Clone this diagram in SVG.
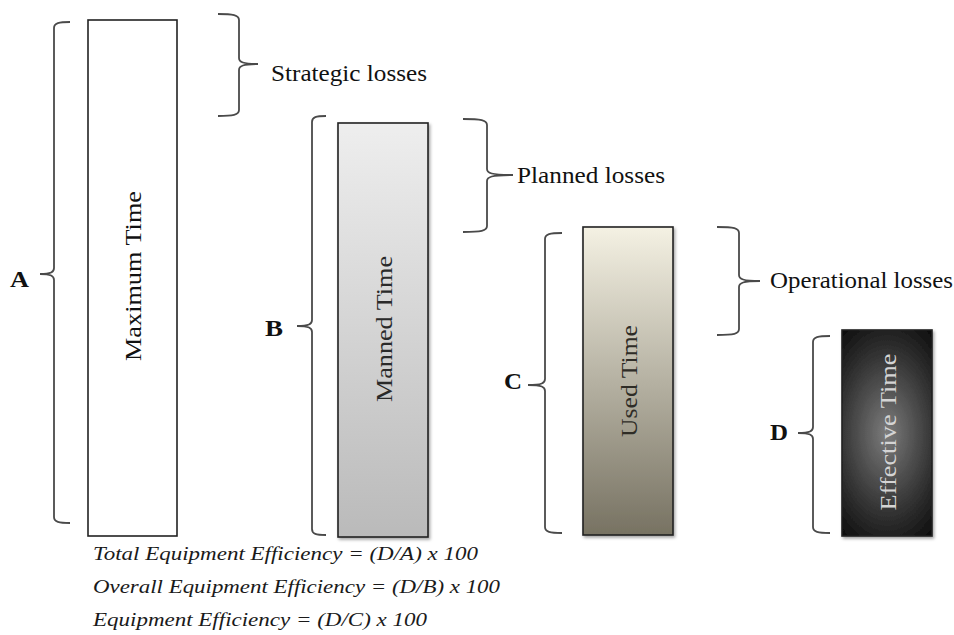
<svg xmlns="http://www.w3.org/2000/svg" width="954" height="635" viewBox="0 0 954 635">
  <defs>
    <linearGradient id="gradManned" x1="0" y1="0" x2="0" y2="1">
      <stop offset="0" stop-color="#eeeeee"/>
      <stop offset="1" stop-color="#bababa"/>
    </linearGradient>
    <linearGradient id="gradUsed" x1="0" y1="0" x2="0" y2="1">
      <stop offset="0" stop-color="#f4f1e3"/>
      <stop offset="1" stop-color="#777262"/>
    </linearGradient>
    <radialGradient id="gradEffective" gradientUnits="userSpaceOnUse" cx="887" cy="433" r="72"
                    gradientTransform="translate(887 433) scale(1 1.7) translate(-887 -433)">
      <stop offset="0" stop-color="#7c7c7c"/>
      <stop offset="0.65" stop-color="#333333"/>
      <stop offset="1" stop-color="#111111"/>
    </radialGradient>
    <filter id="shadow" x="-20%" y="-10%" width="140%" height="120%">
      <feDropShadow dx="1.5" dy="2" stdDeviation="1.8" flood-color="#000" flood-opacity="0.35"/>
    </filter>
  </defs>
  <style>
    .bar { stroke: #222; stroke-width: 1.6; }
    .brace { fill: none; stroke: #4a4a4a; stroke-width: 1.8; }
    .lbl { font-family: "Liberation Serif", "Times New Roman", serif; font-size: 23px; fill: #111; }
    .key { font-family: "Liberation Serif", "Times New Roman", serif; font-size: 24px; font-weight: bold; fill: #111; }
    .inbar { font-family: "Liberation Serif", "Times New Roman", serif; font-size: 23px; text-anchor: middle; dominant-baseline: central; }
    .formula { font-family: "Liberation Serif", "Times New Roman", serif; font-size: 18px; font-style: italic; fill: #1a1a1a; }
  </style>

  <rect width="954" height="635" fill="#ffffff"/>

  <!-- Bars -->
  <g id="maximum-time">
    <rect class="bar" x="88" y="20" width="89" height="516" fill="#ffffff"/>
    <text class="inbar" fill="#111" transform="translate(133 276) rotate(-90)" textLength="170" lengthAdjust="spacingAndGlyphs">Maximum Time</text>
  </g>
  <g id="manned-time">
    <rect class="bar" x="338" y="123" width="90" height="414" fill="url(#gradManned)" filter="url(#shadow)"/>
    <text class="inbar" fill="#2a2a2a" transform="translate(384 329) rotate(-90)" textLength="146" lengthAdjust="spacingAndGlyphs">Manned Time</text>
  </g>
  <g id="used-time">
    <rect class="bar" x="583" y="227" width="90" height="308" fill="url(#gradUsed)" filter="url(#shadow)"/>
    <text class="inbar" fill="#2e2c26" transform="translate(629 381) rotate(-90)" textLength="112" lengthAdjust="spacingAndGlyphs">Used Time</text>
  </g>
  <g id="effective-time">
    <rect class="bar" x="842" y="330" width="90" height="206" fill="url(#gradEffective)" filter="url(#shadow)"/>
    <text class="inbar" fill="#d4d4d4" transform="translate(888 432) rotate(-90)" textLength="157" lengthAdjust="spacingAndGlyphs">Effective Time</text>
  </g>

  <!-- Braces -->
  <g id="connectors">
    <!-- A: spans Maximum Time -->
    <path class="brace" d="M70,22 C59,22 54,23 54,28 L54,268 C54,272 51,274 40,274 C51,274 54,276 54,280 L54,517 C54,522 59,523 70,523"/>
    <!-- B: spans Manned Time -->
    <path class="brace" d="M326,116 C316,116 312,117 312,122 L312,320 C312,324 309,326 297,326 C309,326 312,328 312,332 L312,529 C312,534 316,535 326,535"/>
    <!-- C: spans Used Time -->
    <path class="brace" d="M562,233 C550,233 545,234 545,239 L545,379 C545,383 542,385 528,385 C542,385 545,387 545,391 L545,527 C545,532 550,533 562,533"/>
    <!-- D: spans Effective Time -->
    <path class="brace" d="M830,336 C818,336 813,337 813,342 L813,427 C813,431 810,433 798,433 C810,433 813,435 813,439 L813,527 C813,532 818,533 830,533"/>
    <!-- Strategic losses -->
    <path class="brace" d="M218,14 C233,14 239,15 239,20 L239,58 C239,62 243,64 258,64 C243,64 239,66 239,70 L239,110 C239,115 233,116 218,116"/>
    <!-- Planned losses -->
    <path class="brace" d="M463,119 C481,119 487,120 487,125 L487,169 C487,173 491,175 513,175 C491,175 487,177 487,181 L487,226 C487,231 481,232 463,232"/>
    <!-- Operational losses -->
    <path class="brace" d="M717,227 C734,227 739,228 739,233 L739,275 C739,279 743,281 760,281 C743,281 739,283 739,287 L739,329 C739,334 734,335 717,335"/>
  </g>

  <g id="brace-labels">
    <text class="key" x="10" y="287" textLength="19" lengthAdjust="spacingAndGlyphs">A</text>
    <text class="key" x="265" y="336" textLength="18" lengthAdjust="spacingAndGlyphs">B</text>
    <text class="key" x="504" y="389" textLength="18" lengthAdjust="spacingAndGlyphs">C</text>
    <text class="key" x="770" y="440" textLength="18" lengthAdjust="spacingAndGlyphs">D</text>
    <text class="lbl" x="271" y="81" textLength="156" lengthAdjust="spacingAndGlyphs">Strategic losses</text>
    <text class="lbl" x="517" y="183" textLength="148" lengthAdjust="spacingAndGlyphs">Planned losses</text>
    <text class="lbl" x="770" y="288" textLength="183" lengthAdjust="spacingAndGlyphs">Operational losses</text>
  </g>

  <!-- Efficiency formulas -->
  <g id="formulas">
    <text class="formula" x="93" y="560" textLength="385" lengthAdjust="spacingAndGlyphs">Total Equipment Efficiency = (D/A) x 100</text>
    <text class="formula" x="93" y="593" textLength="407" lengthAdjust="spacingAndGlyphs">Overall Equipment Efficiency = (D/B) x 100</text>
    <text class="formula" x="93" y="626" textLength="334" lengthAdjust="spacingAndGlyphs">Equipment Efficiency = (D/C) x 100</text>
  </g>
</svg>
